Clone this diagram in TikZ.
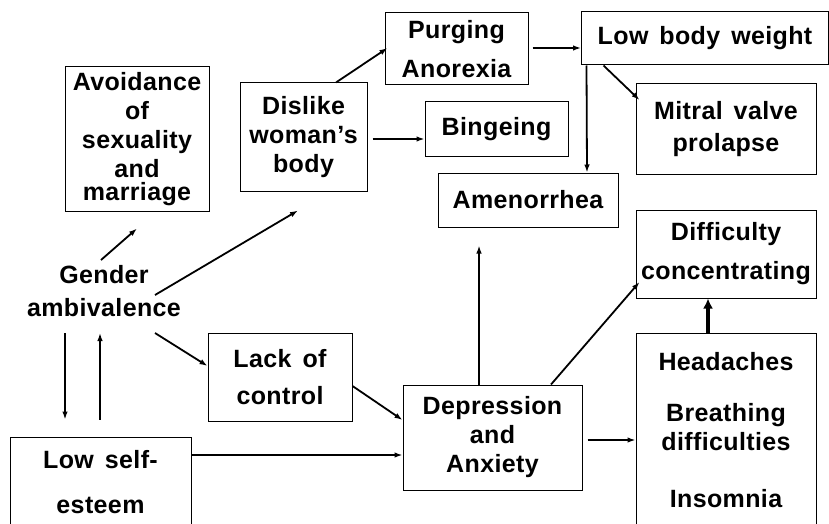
\documentclass[tikz,border=0pt]{standalone}
\usepackage{fontspec}
\newfontfamily\diagfont{Liberation Sans}[LetterSpace=1.5,WordSpace=1.5]
\usepackage{tikz}
\usetikzlibrary{calc,arrows.meta}
\tikzset{
    box/.style={
    rectangle,draw=black,line width=0.5pt,align=center,inner sep=0pt
    },
    line/.style={draw, line width=0.9pt, -{Latex[length=4pt,width=2.8pt]}},
    bigline/.style={draw, line width=2.2pt, -{Latex[length=5pt,width=5pt]}},
}

\begin{document}
\begin{tikzpicture}[x=0.5pt,y=-0.5pt,font=\diagfont\bfseries\fontsize{12.5}{14.5}\selectfont]
\clip (0,0) rectangle (829,524); % page = reference, lower boxes run off

  \node[box,minimum width=72pt,minimum height=72pt] (avoid) at (137,139) {Avoidance\\of\\sexuality\\and\\[-3pt]marriage};
  \node[box,minimum width=63.5pt,minimum height=54pt] (dislike) at (303.5,137) {Dislike\\woman’s\\body};
  \node[box,minimum width=71.5pt,minimum height=36pt] (purging) at (456.5,49) {Purging\\[5pt]Anorexia};
  \node[box,minimum width=123.5pt,minimum height=26.5pt] (weight) at (705,38.5) {Low body weight};
  \node[box,minimum width=90pt,minimum height=45pt] (mitral) at (726,129) {Mitral valve\\[1.5pt]prolapse};
  \node[box,minimum width=71.5pt,minimum height=27pt] (binge) at (496.5,129) {Bingeing};
  \node[box,minimum width=90pt,minimum height=27pt] (amen) at (528,200) {Amenorrhea};
  \node[box,minimum width=90pt,minimum height=44pt] (diffc) at (726,254) {Difficulty\\[5pt]concentrating};
  \node[box,minimum width=90pt,minimum height=97pt] (head) at (726,430) {Headaches\\[11pt]Breathing\\difficulties\\[14pt]Insomnia};
  \node[box,minimum width=89.5pt,minimum height=52.5pt] (depr) at (492.5,437.5) {Depression\\and\\Anxiety};
  \node[box,minimum width=72pt,minimum height=44pt] (lack) at (280,377) {Lack of\\[4pt]control};
  \node[box,minimum width=90.5pt,minimum height=45pt] (self) at (100.5,482) {Low self-\\[8pt]esteem};
  \node[align=center] (gender) at (104,291) {Gender\\[2pt]ambivalence};

  \path[line] ($(gender)+(-3,-31)$) -- ($(avoid.south)+(0,17)$);
  \path[line] ($(gender)+(51,4)$) -- ($(dislike.south)+(-5.5,19)$);
  \path[line] ($(gender)+(51,42)$) -- ($(lack.west)+(0,-11)$);
  \path[line] ($(gender)+(-39,42)$) -- ($(self.north)+(-35.5,-17)$);
  \path[line] ($(self.north)+(-0.5,-17)$) -- ($(gender)+(-4,42)$);
  \path[line] ($(self.east)+(0,-27)$) -- ($(depr.west)+(0,17.5)$);
  \path[line] ($(lack.east)+(0,9)$) -- ($(depr.west)+(0,-17.5)$);
  \path[line] ($(dislike.north)+(32.5,0)$) -- ($(purging.west)+(3,-1)$);
  \path[line] ($(dislike.east)+(5,2)$) -- ($(binge.west)+(0,10)$);
  \path[line] ($(purging.east)+(4,-1)$) -- ($(weight.west)+(0,9.5)$);
  \path[line] ($(weight.south)+(-118.5,0)$) -- ($(amen.north)+(59,0)$);
  \path[line] ($(weight.south)+(-101.5,0)$) -- ($(mitral.west)+(4,-29)$);
  \path[line] ($(depr.north)+(-13.5,0)$) -- ($(amen.south)+(-49,18)$);
  \path[line] ($(depr.north)+(58.5,0)$) -- ($(diffc.west)+(4,28)$);
  \path[line] ($(depr.east)+(5,2.5)$) -- ($(head.west)+(0,10)$);
  \path[bigline] ($(head.north)+(-18,0)$) -- ($(diffc.south)+(-18,0)$);
\end{tikzpicture}
\end{document}
